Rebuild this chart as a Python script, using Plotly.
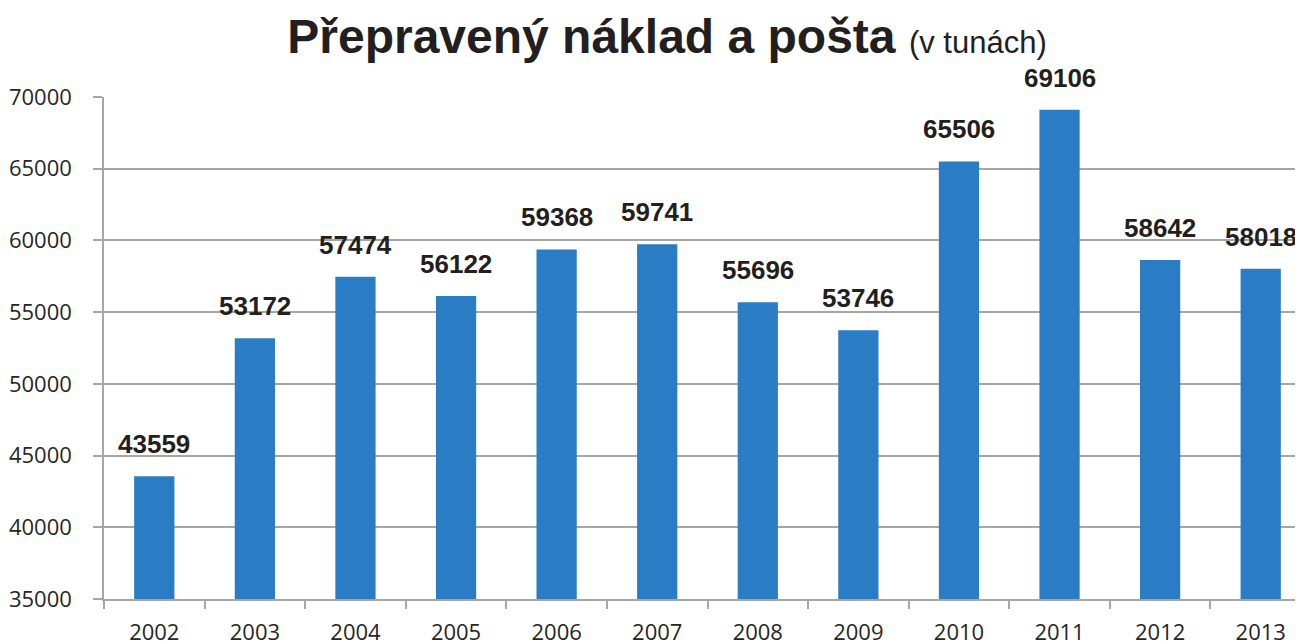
import plotly.graph_objects as go

years = ["2002", "2003", "2004", "2005", "2006", "2007", "2008", "2009", "2010", "2011", "2012", "2013"]
tons = [43559, 53172, 57474, 56122, 59368, 59741, 55696, 53746, 65506, 69106, 58642, 58018]
y_ticks = [35000, 40000, 45000, 50000, 55000, 60000, 65000, 70000]

bar_color = "#2A7DC4"
grid_color = "#A6A6A6"

fig = go.Figure()
fig.add_trace(go.Bar(x=years, y=tons, marker=dict(color=bar_color, line=dict(width=0)),
                     hoverinfo="x+y"))

annotations = [
    dict(x=i, y=v, text=f"<b>{v}</b>", showarrow=False, xref="x", yref="y",
         yanchor="bottom", yshift=15,
         font=dict(family="Liberation Sans, Arial", size=26, color="#231F20"))
    for i, v in enumerate(tons)
]

fig.update_layout(
    width=1303, height=644,
    margin=dict(l=96, r=0, t=89, b=53),
    paper_bgcolor="white", plot_bgcolor="white",
    bargap=0.6,
    showlegend=False,
    title=dict(
        text="<b>Přepravený náklad a pošta</b> <span style='font-size:31px'>(v tunách)</span>",
        x=659 / 1303, xanchor="center", xref="container",
        y=1 - 28 / 644, yanchor="middle", yref="container",
        font=dict(family="Liberation Sans, Arial", size=48, color="#231F20"),
    ),
    annotations=annotations,
    xaxis=dict(
        type="category", categoryorder="array", categoryarray=years,
        range=[-0.5, len(years) - 0.5],
        tickson="boundaries", ticks="outside", ticklen=8,
        tickcolor=grid_color, tickwidth=1.5, tickangle=0,
        showline=True, linecolor=grid_color, linewidth=1.5,
        showgrid=False, automargin=False, ticklabelstandoff=13,
        tickfont=dict(family="Open Sans, Noto Sans", size=22, color="#262626"),
    ),
    yaxis=dict(
        range=[35000, 70000], tickvals=y_ticks, ticks="outside", ticklen=9,
        tickcolor=grid_color, tickwidth=1.5,
        showline=True, linecolor=grid_color, linewidth=1.5,
        showgrid=True, gridcolor=grid_color, gridwidth=1.5,
        zeroline=False, automargin=False, ticklabelstandoff=17,
        tickformat="d",
        tickfont=dict(family="Open Sans, Noto Sans", size=22, color="#262626"),
    ),
)

fig.write_html("out.html")
